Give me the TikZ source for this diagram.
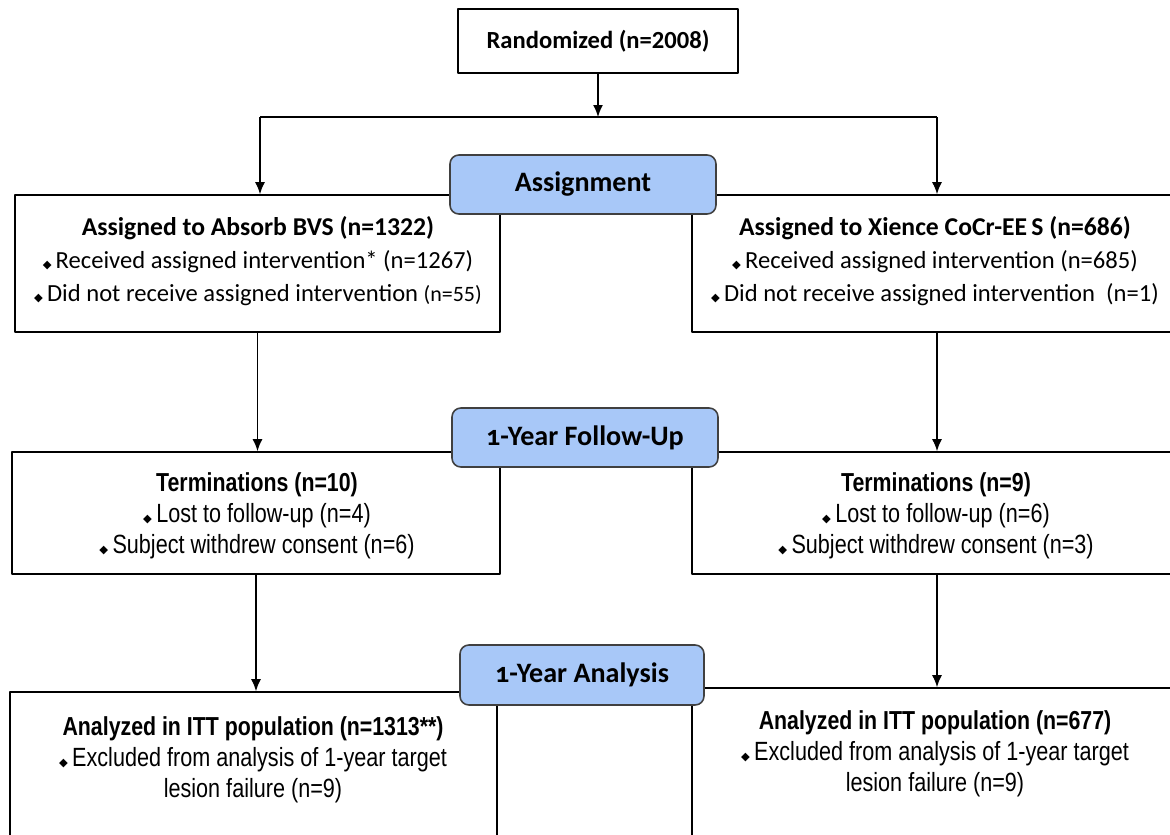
\documentclass[tikz,border=0pt]{standalone}
\usepackage{fontspec}
\setmainfont{Carlito}
\newfontfamily\narrowf{Liberation Sans}[FakeStretch=0.82]
\newfontfamily\symf{DejaVu Sans}
\newfontfamily\oldnumf{Carlito}[Numbers=OldStyle]
\usetikzlibrary{positioning,arrows.meta}
\newcommand\bul{{\symf\fontsize{6.5}{6}\selectfont ◆}\,}
\newcommand\toptitle[1]{{\bfseries\fontsize{14.6}{18.8}\selectfont #1}}
\newcommand\lowtitle[1]{{\bfseries\fontsize{14.8}{17.5}\selectfont #1}}
\definecolor{phasefill}{HTML}{A8C8F8}
\definecolor{phaseline}{HTML}{404040}
\tikzset{
  box/.style={draw,line width=0.9pt,minimum height=2.74cm},
  phase/.style={draw=phaseline,line width=0.9pt,fill=phasefill,rounded corners=5pt,
    minimum height=1.18cm,font=\oldnumf\bfseries\fontsize{16}{18}\selectfont},
  toptxt/.style={align=center,font=\fontsize{14}{18.8}\selectfont},
  lowtxt/.style={align=center,font=\narrowf\fontsize{15}{17.6}\selectfont}
}
\begin{document}
\begin{tikzpicture}[x=0.02cm,y=-0.02cm,line join=round,>={Latex[length=2.4mm,width=2mm]}]
\useasboundingbox (0,0) rectangle (1170,835);
\clip (0,0) rectangle (1170,835);
\fill[white] (0,0) rectangle (1170,835);

\node[box,minimum width=5.6cm,minimum height=1.28cm,font=\bfseries\fontsize{14}{16}\selectfont]
  (rand) at (598,41) {Randomized (n=2008)};

% assignment
\node[box,minimum width=9.7cm] (absorb) at (257.5,263.5) {};
\node[box,minimum width=9.96cm] (xience) at (941,263.5) {};
\node[toptxt] (absorbtxt) at (258,261) {\toptitle{Assigned to Absorb BVS (n=1322)}\\
  \bul Received assigned intervention* (n=1267)\\
  \bul Did not receive assigned intervention {\fontsize{12.5}{12}\selectfont(n=55)}};
\node[toptxt] (xiencetxt) at (935,261) {\toptitle{Assigned to Xience CoCr-EE\,S (n=686)}\\
  \bul Received assigned intervention (n=685)\\
  \bul Did not receive assigned intervention\ \ (n=1)};
\node[phase,minimum width=5.32cm] (assign) at (583,184.5) {Assignment};

% follow-up
\node[box,minimum width=9.76cm,minimum height=2.44cm] (termL) at (256,513) {};
\node[box,minimum width=9.96cm,minimum height=2.44cm] (termR) at (941,513) {};
\node[lowtxt] (termLtxt) at (257,516) {\lowtitle{Terminations (n=10)}\\
  \bul Lost to follow-up (n=4)\\
  \bul Subject withdrew consent (n=6)};
\node[lowtxt] (termRtxt) at (936,516) {\lowtitle{Terminations (n=9)}\\
  \bul Lost to follow-up (n=6)\\
  \bul Subject withdrew consent (n=3)};
\node[phase,minimum width=5.32cm] (follow) at (585,437.5) {1-Year Follow-Up};

% analysis
\node[box,minimum width=9.74cm,minimum height=3.36cm] (anaL) at (253.5,776) {};
\node[box,minimum width=9.96cm,minimum height=3.44cm] (anaR) at (941,774) {};
\node[lowtxt] (anaLtxt) at (253,760) {\lowtitle{Analyzed in ITT population (n=1313**)}\\
  \bul Excluded from analysis of 1-year target\\
  lesion failure (n=9)};
\node[lowtxt] (anaRtxt) at (935,754) {\lowtitle{Analyzed in ITT population (n=677)}\\
  \bul Excluded from analysis of 1-year target\\
  lesion failure (n=9)};
\node[phase,minimum width=4.88cm,minimum height=1.2cm] (analysis) at (582,675) {1-Year Analysis};

% connectors
\coordinate (split) at (598,117);
\coordinate (splitL) at (260,117);
\coordinate (splitR) at (937,117);
\begin{scope}[line width=0.9pt]
\draw[->] (rand) -- (split);
\draw (splitL) -- (splitR);
\draw[->] (splitL) -- (splitL |- absorb.north);
\draw[->] (splitR) -- (splitR |- xience.north);
\draw[->] (absorb.south) -- (absorb.south |- termL.north);
\draw[->] (splitR |- xience.south) -- (splitR |- termR.north);
\draw[->] (termL.south) -- (termL.south |- anaL.north);
\draw[->] (splitR |- termR.south) -- (splitR |- anaR.north);
\end{scope}
\end{tikzpicture}
\end{document}
